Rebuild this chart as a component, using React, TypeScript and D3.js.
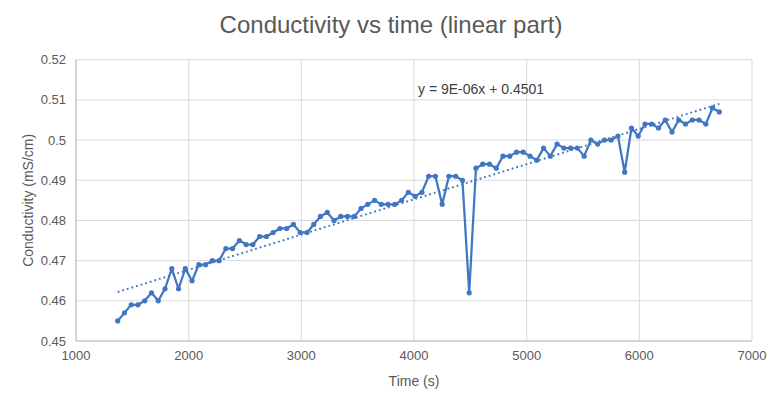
import React from "react";
import * as d3 from "d3";

const times: number[] = [
  1370, 1430, 1490, 1550, 1610, 1670, 1730, 1790, 1850, 1910,
  1970, 2030, 2090, 2150, 2210, 2270, 2330, 2390, 2450, 2510,
  2570, 2630, 2690, 2750, 2810, 2870, 2930, 2990, 3050, 3110,
  3170, 3230, 3290, 3350, 3410, 3470, 3530, 3590, 3650, 3710,
  3770, 3830, 3890, 3950, 4010, 4070, 4130, 4190, 4250, 4310,
  4370, 4430, 4490, 4550, 4610, 4670, 4730, 4790, 4850, 4910,
  4970, 5030, 5090, 5150, 5210, 5270, 5330, 5390, 5450, 5510,
  5570, 5630, 5690, 5750, 5810, 5870, 5930, 5990, 6050, 6110,
  6170, 6230, 6290, 6350, 6410, 6470, 6530, 6590, 6650, 6710,
];

const conductivity: number[] = [
  0.455, 0.457, 0.459, 0.459, 0.46, 0.462, 0.46, 0.463, 0.468, 0.463,
  0.468, 0.465, 0.469, 0.469, 0.47, 0.47, 0.473, 0.473, 0.475, 0.474,
  0.474, 0.476, 0.476, 0.477, 0.478, 0.478, 0.479, 0.477, 0.477, 0.479,
  0.481, 0.482, 0.48, 0.481, 0.481, 0.481, 0.483, 0.484, 0.485, 0.484,
  0.484, 0.484, 0.485, 0.487, 0.486, 0.487, 0.491, 0.491, 0.484, 0.491,
  0.491, 0.49, 0.462, 0.493, 0.494, 0.494, 0.493, 0.496, 0.496, 0.497,
  0.497, 0.496, 0.495, 0.498, 0.496, 0.499, 0.498, 0.498, 0.498, 0.496,
  0.5, 0.499, 0.5, 0.5, 0.501, 0.492, 0.503, 0.501, 0.504, 0.504,
  0.503, 0.505, 0.502, 0.505, 0.504, 0.505, 0.505, 0.504, 0.508, 0.507,
];

const xTicks: number[] = [1000, 2000, 3000, 4000, 5000, 6000, 7000];
const yTicks: number[] = [0.45, 0.46, 0.47, 0.48, 0.49, 0.5, 0.51, 0.52];
const yTickLabels: string[] = ["0.45", "0.46", "0.47", "0.48", "0.49", "0.5", "0.51", "0.52"];

const title = "Conductivity vs time (linear part)";
const xTitle = "Time (s)";
const yTitle = "Conductivity (mS/cm)";
const equation = "y = 9E-06x + 0.4501";

export default function App() {
  const W = 782;
  const H = 396;
  const left = 76;
  const right = 752;
  const top = 59.7;
  const bottom = 341;
  const color = "#4077c2";
  const font = "'Liberation Sans', Arial, Helvetica, sans-serif";
  const textColor = "#595959";

  const x = d3.scaleLinear().domain([1000, 7000]).range([left, right]);
  const y = d3.scaleLinear().domain([0.45, 0.52]).range([bottom, top]);

  const data = times.map((t, i) => ({ t, v: conductivity[i] }));
  const line = d3
    .line<{ t: number; v: number }>()
    .x((d) => x(d.t))
    .y((d) => y(d.v));

  // least squares trend
  const mx = d3.mean(times) as number;
  const my = d3.mean(conductivity) as number;
  let sxy = 0;
  let sxx = 0;
  data.forEach((d) => {
    sxy += (d.t - mx) * (d.v - my);
    sxx += (d.t - mx) * (d.t - mx);
  });
  const slope = sxy / sxx;
  const intercept = my - slope * mx;
  const t0 = d3.min(times) as number;
  const t1 = d3.max(times) as number;
  const trend = [
    { t: t0, v: intercept + slope * t0 },
    { t: t1, v: intercept + slope * t1 },
  ];

  return (
    <svg width={W} height={H} style={{ position: "absolute", left: 0, top: 0, background: "#fff" }}>
      <rect x={0} y={0} width={W} height={H} fill="#fff" />
      <text x={391} y={33} textAnchor="middle" fontFamily={font} fontSize={24} fill={textColor}>
        {title}
      </text>
      {yTicks.map((v) => (
        <line key={"gy" + v} x1={left} x2={right} y1={y(v)} y2={y(v)} stroke="#d9d9d9" strokeWidth={1} />
      ))}
      {xTicks.map((t) => (
        <line key={"gx" + t} x1={x(t)} x2={x(t)} y1={top} y2={bottom} stroke="#d9d9d9" strokeWidth={1} />
      ))}
      <line x1={left} x2={left} y1={top} y2={bottom} stroke="#bfbfbf" strokeWidth={1} />
      <line x1={left} x2={right} y1={bottom} y2={bottom} stroke="#bfbfbf" strokeWidth={1} />
      {yTicks.map((v, i) => (
        <text key={"ly" + v} x={66} y={y(v) + 4.5} textAnchor="end" fontFamily={font} fontSize={13} fill={textColor}>
          {yTickLabels[i]}
        </text>
      ))}
      {xTicks.map((t) => (
        <text key={"lx" + t} x={x(t)} y={360} textAnchor="middle" fontFamily={font} fontSize={13} fill={textColor}>
          {t}
        </text>
      ))}
      <text x={(left + right) / 2} y={386} textAnchor="middle" fontFamily={font} fontSize={14} fill={textColor}>
        {xTitle}
      </text>
      <text
        transform={`translate(33, ${(top + bottom) / 2}) rotate(-90)`}
        textAnchor="middle"
        fontFamily={font}
        fontSize={14}
        fill={textColor}
      >
        {yTitle}
      </text>
      <path d={line(data) || ""} fill="none" stroke={color} strokeWidth={2.25} strokeLinejoin="round" />
      {data.map((d, i) => (
        <circle key={"p" + i} cx={x(d.t)} cy={y(d.v)} r={2.6} fill={color} />
      ))}
      <path
        d={line(trend) || ""}
        fill="none"
        stroke={color}
        strokeWidth={2}
        strokeDasharray="1.8,3"
      />
      <text x={418} y={94} fontFamily={font} fontSize={14} fill="#404040">
        {equation}
      </text>
    </svg>
  );
}
